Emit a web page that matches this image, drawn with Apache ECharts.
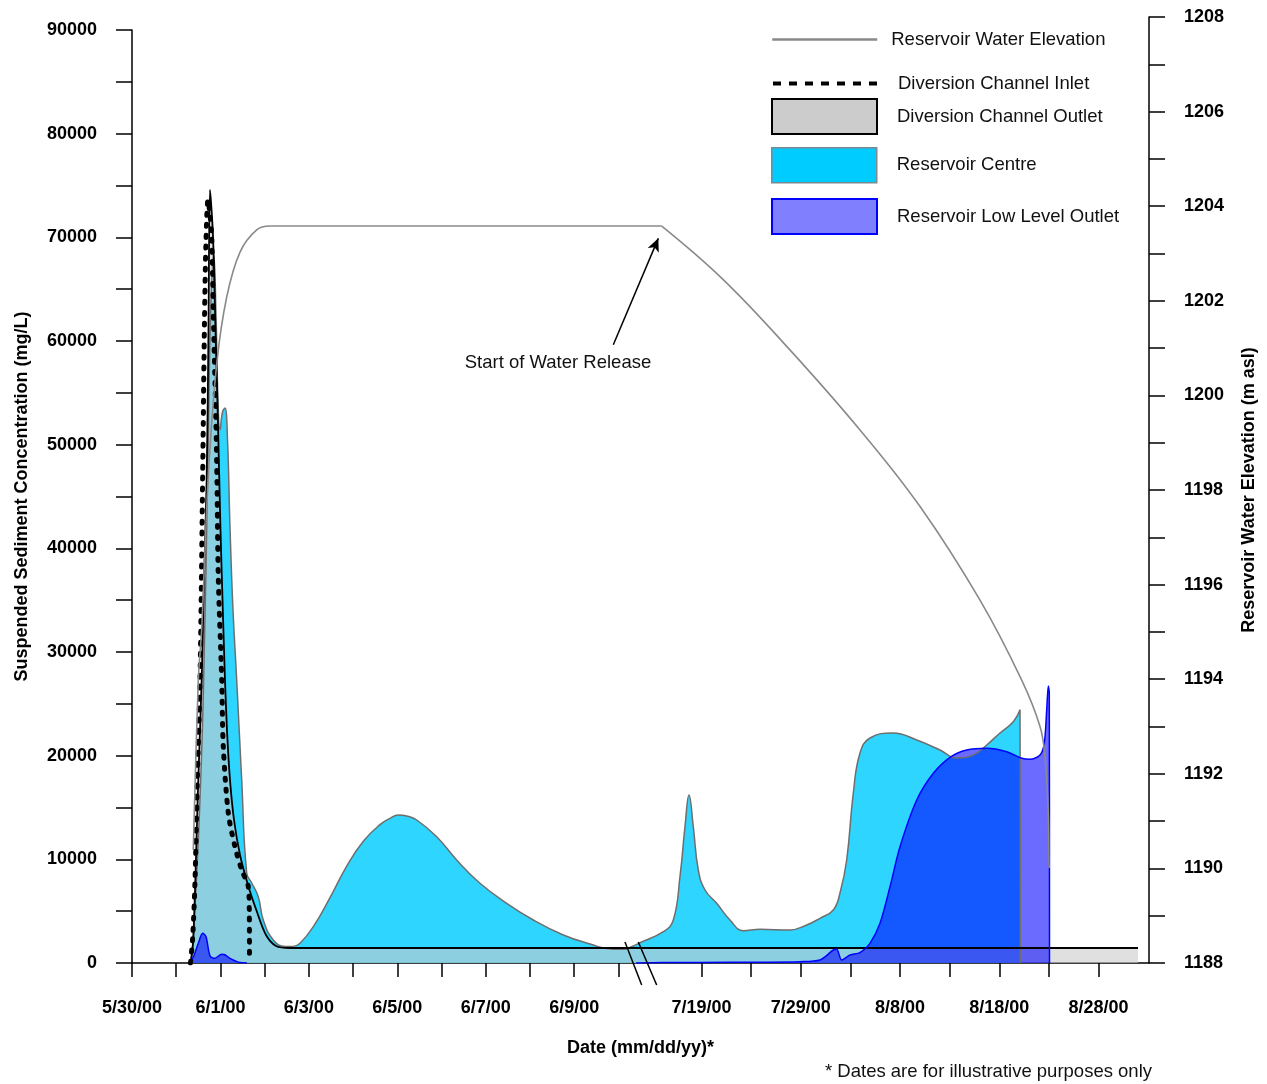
<!DOCTYPE html>
<html><head><meta charset="utf-8">
<script src="https://cdn.jsdelivr.net/npm/echarts@6/dist/echarts.min.js"></script>
<style>html,body{margin:0;padding:0;background:#fff}#c{width:1267px;height:1084px}</style>
</head><body><div id="c"></div>
<script>
// x values are positions on the broken date axis (1 unit = 1 day before the break)
const xLabelPos = [0, 2, 4, 6, 8, 10, 12.88, 15.125, 17.37, 19.615, 21.86];
const xTickLabels = ['5/30/00','6/1/00','6/3/00','6/5/00','6/7/00','6/9/00','7/19/00','7/29/00','8/8/00','8/18/00','8/28/00'];
const xTickPos = [0,1,2,3,4,5,6,7,8,9,10,11,12.88,14.0025,15.125,16.2475,17.37,18.4925,19.615,20.7375,21.86];

const elevRiseX = [1.386,1.499,1.576,1.726,1.916,2.142,2.443,2.820,3.121,6.06,9.0,11.98];
const elevRiseY = [1190.39,1193.98,1195.06,1198.30,1200.66,1202.08,1203.03,1203.50,1203.58,1203.58,1203.58,1203.58];
const elevFallX = [11.98,13.336,14.843,16.464,17.822,19.178,20.121,20.535,20.648,20.723,20.739,20.743];
const elevFallY = [1203.58,1202.48,1201.00,1199.27,1197.65,1195.67,1193.98,1193.00,1192.36,1191.16,1190.11,1190.01];

const inletX = [1.323,1.373,1.425,1.477,1.538,1.599,1.640,1.674,1.719,1.764,1.802,1.839,1.900,1.922,1.952,2.029,2.065,2.178,2.329,2.481,2.630,2.653,2.657];
const inletY = [0,2508,8006,17652,27298,47266,62024,69741,73600,72152,70126,62699,51895,46590,37137,27298,20865,14469,11218,8971,7360,4823,482];

const outletX = [1.323,1.386,1.499,1.576,1.628,1.689,1.730,1.764,1.832,1.888,1.945,2.001,2.047,2.103,2.149,2.216,2.307,2.443,2.623,2.827,3.031,3.257,3.573,22.751];
const outletY = [0,2219,17652,27298,36944,46590,61059,74564,70127,61059,51895,41767,35015,27298,22378,17652,13794,10418,7524,4919,2701,1640,1447,1447];

const centreX = [1.345,1.49,1.61,1.72,1.78,1.85,1.90,1.945,1.990,2.047,2.103,2.160,2.216,2.284,2.368,2.481,2.594,2.707,2.856,2.969,3.196,3.460,3.641,3.799,4.100,4.478,4.856,5.231,5.609,5.835,6.023,6.212,6.439,6.891,7.343,7.870,8.474,9.076,9.754,10.358,10.885,11.111,11.337,11.489,12.016,12.242,12.393,12.506,12.597,12.694,12.807,12.959,13.223,13.524,13.825,14.203,14.881,15.259,15.559,15.860,16.012,16.163,16.313,16.464,16.690,17.217,17.747,18.273,18.651,19.027,19.330,19.630,19.931,20.083,20.089];
const centreY = [0,10900,25369,49484,63000,68300,62500,54307,51413,53149,53535,50449,42057,34050,27298,17652,8681,7717,6396,4148,2219,1592,1592,1900,3501,6300,9350,11750,13350,13955,14276,14180,13794,12183,9935,7688,5758,4148,2701,1833,1322,1322,1640,1958,3019,4148,8325,13148,16205,13148,8971,7042,5759,4148,3116,3251,3183,3665,4312,5112,6752,9935,16398,20257,21704,22186,21511,20546,19775,20064,21029,22186,23276,24404,0];

// null = no low-level data drawn (gap)
const lowX = [1.312,1.40,1.499,1.599,1.674,1.764,1.87,2.03,2.10,2.216,2.443,2.6,5.0,11.4,12.0,12.845,14.202,15.107,15.559,15.860,15.937,16.050,16.238,16.464,16.690,16.916,17.143,17.369,17.747,18.122,18.500,18.877,19.330,19.782,20.121,20.309,20.535,20.632,20.686,20.723,20.745,20.750];
const lowY = [0,700,1900,2865,2537,700,450,850,800,450,40,0,null,0,50,60,80,125,289,1254,1322,289,772,994,1900,3829,7360,11218,15723,18300,19842,20546,20710,20382,19746,19649,20064,21193,24404,26719,26044,0];

const arrowFrom = [10.885, 1201.07];
const arrowTo = [11.903, 1203.32];
const noteAt = [9.634, 1200.685];

const zip = (a, b) => a.map((v, i) => [v, b[i] === null ? '-' : b[i]]);
const FONT = 'Liberation Sans';

const chart = echarts.init(document.getElementById('c'), null, {renderer: 'canvas'});

const axisLineStyle = {color: '#000', width: 1.5};
const tickLabel = {color: '#000', fontSize: 18, fontWeight: 'bold', fontFamily: FONT};
const nameStyle = {color: '#000', fontSize: 18, fontWeight: 'bold', fontFamily: FONT};
const legText = (pad) => ({color: '#111', fontSize: 18.5, fontFamily: FONT, padding: [0, 0, 0, pad]});
const noSym = {color: 'rgba(0,0,0,0)', borderWidth: 0, opacity: 0};

const option = {
  animation: false,
  backgroundColor: '#fff',
  grid: [
    {left: 132, right: 118, top: 30, bottom: 121},
    {left: 132, right: 118, top: 17, bottom: 121}
  ],
  xAxis: [
    {
      type: 'value', gridIndex: 0, min: 0, max: 23,
      axisLine: {show: true, onZero: false, lineStyle: axisLineStyle},
      axisTick: {show: true, length: 14, customValues: xTickPos, lineStyle: axisLineStyle},
      axisLabel: Object.assign({customValues: xLabelPos, margin: 36,
        formatter: (v) => {
          let best = 0;
          xLabelPos.forEach((p, i) => { if (Math.abs(p - v) < Math.abs(xLabelPos[best] - v)) best = i; });
          return xTickLabels[best];
        }}, tickLabel),
      splitLine: {show: false},
      name: 'Date (mm/dd/yy)*', nameLocation: 'middle', nameGap: 76, nameTextStyle: nameStyle
    },
    {type: 'value', gridIndex: 1, min: 0, max: 23, show: false, axisLine: {onZero: false}}
  ],
  yAxis: [
    {
      type: 'value', gridIndex: 0, position: 'left', min: 0, max: 90000, interval: 5000,
      axisLine: {show: true, onZero: false, lineStyle: axisLineStyle},
      axisTick: {show: true, length: 16, lineStyle: axisLineStyle},
      axisLabel: Object.assign({margin: 35, formatter: (v) => (v % 10000 === 0 ? String(v) : '')}, tickLabel),
      splitLine: {show: false},
      name: 'Suspended Sediment Concentration (mg/L)', nameLocation: 'middle', nameRotate: 90,
      nameGap: 101, nameTextStyle: nameStyle
    },
    {
      type: 'value', gridIndex: 1, position: 'right', min: 1188, max: 1208, interval: 1,
      axisLine: {show: true, onZero: false, lineStyle: axisLineStyle},
      axisTick: {show: true, length: 16, lineStyle: axisLineStyle},
      axisLabel: Object.assign({margin: 35, formatter: (v) => (v % 2 === 0 ? String(v) : '')}, tickLabel),
      splitLine: {show: false},
      name: 'Reservoir Water Elevation (m asl)', nameLocation: 'middle', nameRotate: 90,
      nameGap: 91, nameTextStyle: nameStyle
    }
  ],
  legend: [
    {data: [{name: 'Reservoir Water Elevation', itemStyle: noSym, lineStyle: {width: 2.5, color: '#888'}}], left: 771, top: 30, padding: 0,
     itemWidth: 105, itemHeight: 14, selectedMode: false, textStyle: legText(9)},
    {data: [{name: 'Diversion Channel Inlet', itemStyle: noSym, lineStyle: {type: [8, 8], width: 4, cap: 'butt', color: '#000'}}],
     left: 771, top: 74, padding: 0, itemWidth: 105, itemHeight: 14, selectedMode: false, textStyle: legText(15)},
    {data: [{name: 'Diversion Channel Outlet', icon: 'rect', itemStyle: {color: '#cccccc', borderColor: '#000', borderWidth: 2, opacity: 1}}],
     left: 771, top: 98, padding: 0, itemWidth: 105, itemHeight: 35, selectedMode: false, textStyle: legText(15)},
    {data: [{name: 'Reservoir Centre', icon: 'rect', itemStyle: {color: '#00ccff', borderColor: '#7a8a90', borderWidth: 1.5, opacity: 1}}],
     left: 771, top: 147, padding: 0, itemWidth: 105, itemHeight: 35, selectedMode: false, textStyle: legText(15)},
    {data: [{name: 'Reservoir Low Level Outlet', icon: 'rect', itemStyle: {color: '#8080ff', borderColor: '#0000ff', borderWidth: 2, opacity: 1}}],
     left: 771, top: 198, padding: 0, itemWidth: 105, itemHeight: 35, selectedMode: false, textStyle: legText(15)}
  ],
  series: [
    {
      name: 'Reservoir Centre', type: 'line', xAxisIndex: 0, yAxisIndex: 0,
      data: zip(centreX, centreY), smooth: 0.45, symbol: 'none',
      lineStyle: {color: '#6e6e6e', width: 1.5},
      itemStyle: {color: '#00ccff'},
      areaStyle: {color: '#00ccff', opacity: 0.82}
    },
    {
      name: 'Diversion Channel Outlet', type: 'line', xAxisIndex: 0, yAxisIndex: 0,
      data: zip(outletX, outletY), smooth: 0.3, symbol: 'none',
      lineStyle: {color: '#000', width: 1.8},
      itemStyle: {color: '#cccccc'},
      areaStyle: {color: '#cccccc', opacity: 0.6}
    },
    {
      name: 'Reservoir Low Level Outlet', type: 'line', xAxisIndex: 0, yAxisIndex: 0,
      data: zip(lowX, lowY), smooth: 0.3, symbol: 'none', connectNulls: false,
      lineStyle: {color: '#0000ff', width: 1.5},
      itemStyle: {color: '#8080ff'},
      areaStyle: {color: '#0000ff', opacity: 0.58}
    },
    {
      name: 'Diversion Channel Inlet', type: 'line', xAxisIndex: 0, yAxisIndex: 0,
      data: zip(inletX, inletY), smooth: 0.3, symbol: 'none',
      lineStyle: {color: '#000', width: 5, type: [2, 9], cap: 'round'},
      itemStyle: {color: '#000'}
    },
    {
      name: 'Reservoir Water Elevation', type: 'line', xAxisIndex: 1, yAxisIndex: 1,
      data: zip(elevRiseX, elevRiseY), smooth: 0.3, symbol: 'none',
      lineStyle: {color: '#8a8a8a', width: 1.6},
      itemStyle: {color: '#8a8a8a'}
    },
    {
      name: 'Reservoir Water Elevation', type: 'line', xAxisIndex: 1, yAxisIndex: 1,
      data: zip(elevFallX, elevFallY), smooth: 0.4, symbol: 'none',
      lineStyle: {color: '#8a8a8a', width: 1.6},
      itemStyle: {color: '#8a8a8a'},
      markLine: {
        silent: true, symbol: ['none', 'arrow'], symbolSize: [9, 13],
        lineStyle: {color: '#000', width: 1.5, type: 'solid'},
        label: {show: false},
        data: [[{coord: arrowFrom}, {coord: arrowTo}]]
      }
    }
  ]
};
chart.setOption(option);

// break marks, annotation text and footnote
const px = (u, v) => chart.convertToPixel({xAxisIndex: 0, yAxisIndex: 0}, [u, v]);
const b1a = px(11.149, 0), b1b = px(11.527, 0), b2a = px(11.450, 0), b2b = px(11.866, 0);
const note = chart.convertToPixel({xAxisIndex: 1, yAxisIndex: 1}, noteAt);
chart.setOption({
  graphic: [
    {type: 'line', shape: {x1: b1a[0], y1: b1a[1] - 21, x2: b1b[0], y2: b1b[1] + 22}, style: {stroke: '#000', lineWidth: 1.5}, z: 100},
    {type: 'line', shape: {x1: b2a[0], y1: b2a[1] - 21, x2: b2b[0], y2: b2b[1] + 22}, style: {stroke: '#000', lineWidth: 1.5}, z: 100},
    {type: 'text', x: note[0], y: note[1], style: {text: 'Start of Water Release', fontSize: 18.5, fontFamily: FONT, fill: '#111', align: 'center', verticalAlign: 'middle'}, z: 100},
    {type: 'text', x: 1152, y: 1072, style: {text: '* Dates are for illustrative purposes only', fontSize: 18.5, fontFamily: FONT, fill: '#111', align: 'right', verticalAlign: 'middle'}, z: 100}
  ]
});
</script>
</body></html>
